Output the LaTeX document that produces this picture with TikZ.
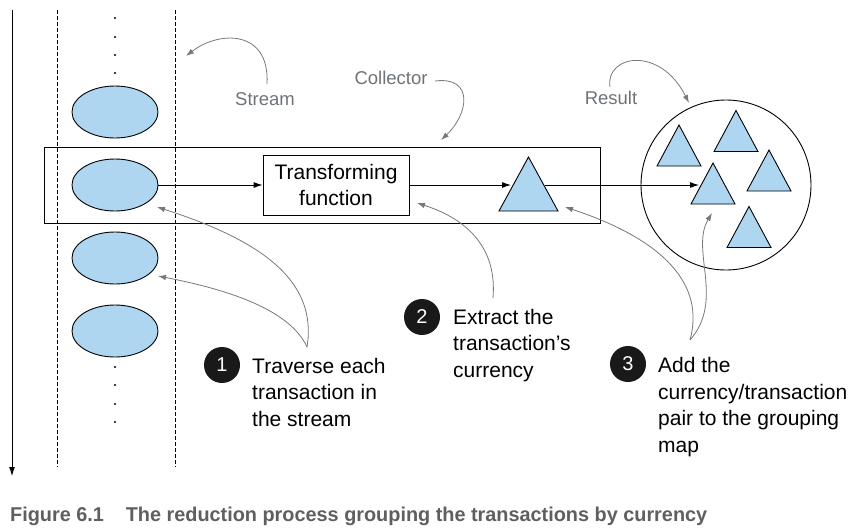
\documentclass[tikz,border=0pt]{standalone}
\usepackage{fontspec}
\usepackage{graphicx}
\setmainfont{Liberation Sans}
\usetikzlibrary{arrows.meta,shapes.geometric}
\definecolor{ellblue}{RGB}{174,214,241}
\definecolor{lblgray}{RGB}{110,115,120}
\definecolor{capgray}{RGB}{95,95,95}
\definecolor{congray}{RGB}{120,120,120}
\tikzset{
  blackarrow/.style={draw=black, line width=0.9pt, -{Latex[length=9pt,width=6pt]}},
  greyarrow/.style={draw=congray, line width=0.8pt, -{Latex[length=8pt,width=5.5pt]}},
  txn/.style={ellipse, draw=black, fill=ellblue, line width=0.9pt, minimum width=86pt, minimum height=52pt, inner sep=0pt},
  tri/.style={draw=black, fill=ellblue, line width=0.9pt, line join=miter},
  numc/.style={circle, fill=black!90, text=white, minimum size=36pt, inner sep=0pt, font=\fontsize{20}{20}\selectfont},
  note/.style={align=left, anchor=base west, inner sep=0pt, font=\fontsize{21}{26.4}\selectfont},
  lbl/.style={text=lblgray, inner sep=0pt, font=\fontsize{18.5}{22}\selectfont},
  boxline/.style={draw=black, line width=0.9pt},
  streamline/.style={draw=black, line width=0.8pt, dash pattern=on 4pt off 2pt},
  stri/.pic={\path[tri] (-22,20.5) -- (0,-20.5) -- (22,20.5) -- cycle;}
}
\begin{document}
\begin{tikzpicture}[x=1pt,y=-1pt]
\useasboundingbox (0,0) rectangle (854,531);

% time axis
\coordinate (tTop) at (12,10);
\coordinate (tBot) at (12,476);
\draw[blackarrow] (tTop) -- (tBot);

% stream lane
\coordinate (dl1) at (57,10);
\coordinate (dl2) at (57,467);
\coordinate (dr1) at (175,10);
\coordinate (dr2) at (175,467);
\draw[streamline] (dl1) -- (dl2);
\draw[streamline] (dr1) -- (dr2);

\foreach \yy in {18,37,55,73,367,385,404,422}
  \fill (115,\yy) circle (1.2pt);

% collector box
\node[boxline, minimum width=556pt, minimum height=76pt, inner sep=0pt] (coll) at (322,185) {};

% transactions
\node[txn] (e1) at (115,112) {};
\node[txn] (e2) at (115,185) {};
\node[txn] (e3) at (115,258) {};
\node[txn] (e4) at (115,331) {};

% transforming function
\node[boxline, fill=white, minimum width=146pt, minimum height=60pt, inner sep=0pt, align=center,
      font=\fontsize{21}{26}\selectfont] (tf) at (336,185) {Transforming\\function};

% big triangle
\path[tri] (499,211) -- (528.5,157) -- (558,211) -- cycle;
\coordinate (btW) at (511,185);
\coordinate (btE) at (545,185);

% result circle
\node[circle, draw=black, line width=0.9pt, minimum size=170pt, inner sep=0pt] (res) at (726,185) {};
\pic at (679,145.5) {stri};
\pic at (736,131) {stri};
\pic at (713,183.5) {stri};
\pic at (769,170.5) {stri};
\pic at (749,227) {stri};
\coordinate (t3W) at (699,185);

% black flow arrows
\draw[blackarrow] (e2.east) -- (tf.west);
\draw[blackarrow] (tf.east) -- (btW);
\draw[blackarrow] (btE) -- (t3W);

% grey labels
\node[lbl] (lstream) at (265,99) {Stream};
\node[lbl] (lcoll) at (391,78) {Collector};
\node[lbl] (lres) at (611,98) {Result};

\coordinate (sS) at (267,84);
\coordinate (sE) at (186,56);
\draw[greyarrow] (sS) .. controls (270,30) and (220,30) .. (sE);
\coordinate (cS) at (435,81);
\coordinate (cE) at (441,140);
\draw[greyarrow] (cS) .. controls (475,76) and (468,115) .. (cE);
\coordinate (rS) at (610,87);
\coordinate (rE) at (689,103);
\draw[greyarrow] (rS) .. controls (605,55) and (660,45) .. (rE);

% numbered notes
\node[numc] (n1) at (222,365) {1};
\node[numc] (n2) at (422,317) {2};
\node[numc] (n3) at (628,364) {3};
\node[note] (s1) at (252,426) {Traverse each\\transaction in\\the stream};
\node[note] (s2) at (453,377) {Extract the\\transaction’s\\currency};
\node[note] (s3) at (658,452) {Add the\\currency/transaction\\pair to the grouping\\map};

% note pointers
\coordinate (p1) at (307,347);
\coordinate (e2t) at (157,207);
\coordinate (e3t) at (158,276);
\draw[greyarrow] (p1) .. controls (318,280) and (260,240) .. (e2t);
\draw[greyarrow] (p1) .. controls (290,310) and (230,290) .. (e3t);
\coordinate (p2) at (493,298);
\coordinate (tft) at (417,203);
\draw[greyarrow] (p2) .. controls (497,250) and (470,220) .. (tft);
\coordinate (p3) at (690,340);
\coordinate (btt) at (565,207);
\coordinate (t3t) at (712,213);
\draw[greyarrow] (p3) .. controls (705,285) and (665,240) .. (btt);
\draw[greyarrow] (p3) .. controls (725,300) and (690,250) .. (t3t);

% caption
\node[anchor=base west, inner sep=0pt, text=capgray] (cap) at (10,521)
  {\resizebox{697pt}{14.5pt}{\bfseries Figure 6.1\hspace{1.1em}The reduction process grouping the transactions by currency}};
\end{tikzpicture}
\end{document}
